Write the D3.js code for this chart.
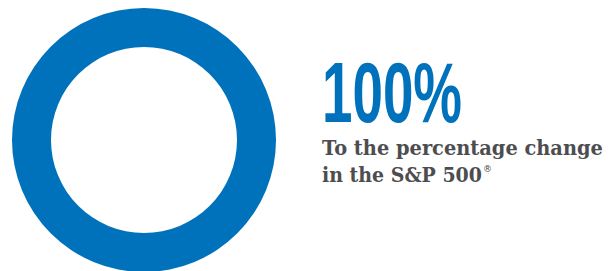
<!DOCTYPE html>
<html>
<head>
<meta charset="utf-8">
<script src="https://cdn.jsdelivr.net/npm/d3@7"></script>
<style>
  html, body { margin: 0; padding: 0; background: #ffffff; }
  svg { display: block; }
</style>
</head>
<body>
<svg id="chart" width="608" height="271"></svg>
<script>
// Data
const categories = ["Participation"];
const values = [100];
const headline = "100%";
const captionLines = ["To the percentage change", "in the S&P 500"];
const captionMark = "®";

const W = 608, H = 271;
const svg = d3.select("#chart");
const blue = "#0072bb";
const gray = "#4d4d4f";

const cx = 144, cy = 140, rOuter = 132, rInner = 93;

const pie = d3.pie().sort(null).value(d => d.value);
const arc = d3.arc().innerRadius(rInner).outerRadius(rOuter);
const data = categories.map((c, i) => ({ name: c, value: values[i] }));

const g = svg.append("g").attr("transform", `translate(${cx},${cy})`);
g.selectAll("path").data(pie(data)).join("path")
  .attr("d", arc)
  .attr("fill", blue);

// fit a text horizontally to a target width via a scale transform
function fitText(sel, x, y, width) {
  sel.attr("x", 0).attr("y", 0);
  const natural = sel.node().getComputedTextLength();
  const k = width / natural;
  sel.attr("transform", `translate(${x},${y}) scale(${k},1)`);
}

// Headline
const head = svg.append("text")
  .attr("font-family", "'Liberation Sans', Roboto, sans-serif")
  .attr("font-weight", 700)
  .attr("font-size", 86)
  .attr("fill", blue)
  .text(headline);
fitText(head, 322, 121.5, 140);

// Caption
const lineWidths = [281, 160];
const baselines = [155, 181.5];
captionLines.forEach((t, i) => {
  const s = svg.append("text")
    .attr("font-family", "'DejaVu Serif', 'Liberation Serif', serif")
    .attr("font-weight", 700)
    .attr("font-size", 21)
    .attr("fill", gray)
    .text(t);
  fitText(s, 322, baselines[i], lineWidths[i]);
});
svg.append("text")
  .attr("x", 483).attr("y", 172)
  .attr("font-family", "'DejaVu Sans', sans-serif")
  .attr("font-size", 9)
  .attr("fill", gray)
  .text(captionMark);
</script>
</body>
</html>
